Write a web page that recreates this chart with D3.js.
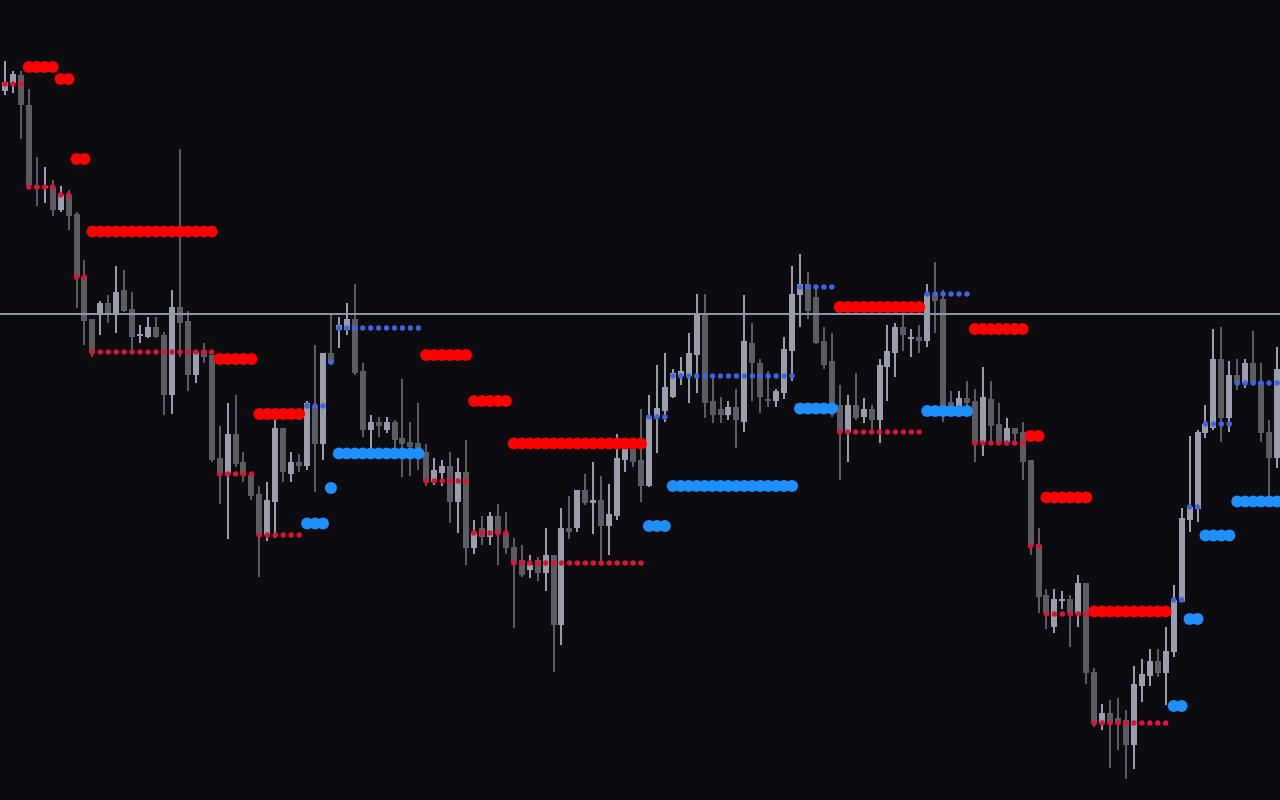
<!DOCTYPE html>
<html>
<head>
<meta charset="utf-8">
<script src="https://cdn.jsdelivr.net/npm/d3@7/dist/d3.min.js"></script>
<style>
  html, body { margin: 0; padding: 0; background: #0b0b10; overflow: hidden; }
  svg { display: block; }
</style>
</head>
<body>
<svg id="chart" width="1280" height="800"></svg>
<script>
// ---- DATA (price units) ----
const opens = [709,717,725,695,614,612,613,590,605,586,523,481,487,497,486,510,491,464,463,473,
465,405,493,479,425,450,445,342,327,366,338,325,306,265,298,372,326,338,334,394,
356,447,470,470,481,429,370,378,370,378,362,358,357,348,318,327,334,298,328,252,
272,263,284,267,253,240,230,240,227,245,175,272,272,310,297,300,274,284,340,351,
340,314,383,389,403,424,424,445,487,399,391,385,393,378,457,437,401,399,407,449,
505,516,503,459,439,395,368,395,383,391,380,433,447,473,462,463,459,505,501,398,
388,402,399,358,401,376,358,372,368,340,255,205,173,199,201,187,217,128,77,87,
82,80,55,114,124,139,127,148,198,280,291,367,372,441,382,425,417,437,418,368,342];
const highs = [739,729,729,711,643,633,620,614,610,588,540,481,499,505,534,530,508,475,483,483,
468,510,651,489,447,457,445,374,397,405,348,325,314,318,380,372,348,346,399,455,
447,487,483,497,516,437,385,383,383,380,421,378,397,356,342,340,348,342,360,280,
284,288,296,288,262,255,245,243,272,245,292,304,310,326,338,324,316,366,360,360,
391,405,435,447,431,443,467,506,506,423,403,399,411,505,477,441,429,411,463,534,
546,528,513,473,467,415,405,427,402,395,441,475,477,485,471,475,516,538,510,409,
409,419,411,433,419,397,382,372,378,340,272,211,211,209,205,225,217,132,96,100,
102,90,134,141,151,151,173,215,292,364,370,395,471,473,439,441,441,469,437,380,453];
const lows = [705,707,661,613,594,597,584,588,570,492,455,443,465,477,467,488,448,457,462,462,
385,386,443,409,417,437,338,296,261,333,318,300,223,259,262,318,318,328,330,308,
340,435,452,465,425,363,352,363,367,352,323,324,330,314,315,314,277,267,235,246,
255,255,235,246,172,223,222,219,209,128,155,261,268,295,266,237,245,280,328,333,
298,313,347,378,402,415,397,407,382,377,377,380,352,368,399,387,393,393,401,419,
473,481,456,431,383,320,338,380,377,368,357,399,423,449,443,447,453,467,378,388,
383,383,338,344,358,358,358,358,320,245,187,171,167,191,153,173,116,73,70,32,
50,21,31,98,114,123,95,143,198,268,278,362,370,358,368,410,412,417,358,303,332];
const closes = [718,726,695,615,612,614,590,605,584,523,479,447,497,486,508,489,463,466,473,463,
405,493,477,425,447,443,340,327,366,336,325,304,265,300,372,328,338,334,397,356,
447,437,475,481,427,370,378,374,378,360,356,353,348,318,330,334,298,328,252,267,
263,284,267,252,237,225,235,227,245,175,272,268,310,297,300,274,286,342,351,338,
314,383,392,413,427,429,447,487,397,385,385,393,380,459,437,403,399,409,451,506,
516,489,457,435,388,368,395,382,391,380,435,449,473,465,463,459,505,499,385,390,
402,397,358,403,374,358,372,366,338,255,203,187,201,201,187,217,127,77,87,77,
77,55,116,126,139,127,149,200,282,293,368,376,441,382,425,417,437,417,367,342,431];

// signal segments: first/last candle index, side (1 = sell / red, -1 = buy / blue), stop level, target level
const segStart  = [0,3,7,9,11,27,32,38,41,42,53,59,64,81,84,100,105,116,122,129,131,137,147,149,151,155];
const segEnd    = [2,6,8,10,26,31,37,40,41,52,58,63,80,83,99,104,115,121,128,130,136,146,148,150,154,160];
const segSide   = [1,1,1,1,1,1,1,-1,-1,-1,1,1,1,-1,-1,-1,1,-1,1,1,1,1,-1,-1,-1,-1];
const segStop   = [716,613,605,523,448,326,265,394,438,472,319,267,237,383,424,513,368,506,357,254,186,77,200,293,376,417];
const segTarget = [null,733,721,641,568.5,441,386,276.5,312,346.5,445,399,356.5,274,314,391.5,493,389,471,364,302.5,188.5,94,181,264.5,298.5];

const refLevel = 486;

// ---- SETUP ----
const W = 1280, H = 800;
const svg = d3.select("#chart");
svg.append("rect").attr("width", W).attr("height", H).attr("fill", "#0b0b10");

const idx = d3.range(opens.length);
const x = d3.scaleBand().domain(idx).range([1, W + 1]).paddingInner(0.245).paddingOuter(0.1225);
const y = d3.scaleLinear().domain([0, 800]).range([H, 0]);
const cx = i => x(i) + x.bandwidth() / 2;

const candles = idx.map(i => ({ i, o: opens[i], h: highs[i], l: lows[i], c: closes[i] }));

const COL_UP = "#9a9dab", COL_DN = "#5b5d62";

// wicks
svg.append("g").selectAll("rect").data(candles).join("rect")
  .attr("x", d => cx(d.i) - 1)
  .attr("width", 2)
  .attr("y", d => y(d.h))
  .attr("height", d => Math.max(1, y(d.l) - y(d.h)))
  .attr("fill", d => d.c >= d.o ? COL_UP : COL_DN)
  .attr("shape-rendering", "crispEdges");

// bodies
svg.append("g").selectAll("rect").data(candles).join("rect")
  .attr("x", d => cx(d.i) - 3)
  .attr("width", 6)
  .attr("y", d => y(Math.max(d.o, d.c)))
  .attr("height", d => Math.max(2, Math.abs(y(d.o) - y(d.c))))
  .attr("fill", d => d.c >= d.o ? COL_UP : COL_DN)
  .attr("shape-rendering", "crispEdges");

// reference horizontal line
svg.append("line")
  .attr("x1", 0).attr("x2", W)
  .attr("y1", y(refLevel)).attr("y2", y(refLevel))
  .attr("stroke", "#8b97a4").attr("stroke-width", 2);

// expand segments to per-candle markers
const stops = [], targets = [];
segStart.forEach((s, k) => {
  for (let i = s; i <= segEnd[k]; i++) {
    stops.push({ i, v: segStop[k], side: segSide[k] });
    if (segTarget[k] != null) targets.push({ i, v: segTarget[k], side: segSide[k] });
  }
});

// target (thick) markers
svg.append("g").selectAll("circle").data(targets).join("circle")
  .attr("cx", d => cx(d.i))
  .attr("cy", d => y(d.v))
  .attr("r", 6)
  .attr("fill", d => d.side > 0 ? "#ff0000" : "#1e8fff");

// stop (dotted) markers
svg.append("g").selectAll("circle").data(stops).join("circle")
  .attr("cx", d => cx(d.i))
  .attr("cy", d => y(d.v))
  .attr("r", 2.7)
  .attr("fill", d => d.side > 0 ? "#dc143c" : "#3d66e0");
</script>
</body>
</html>
